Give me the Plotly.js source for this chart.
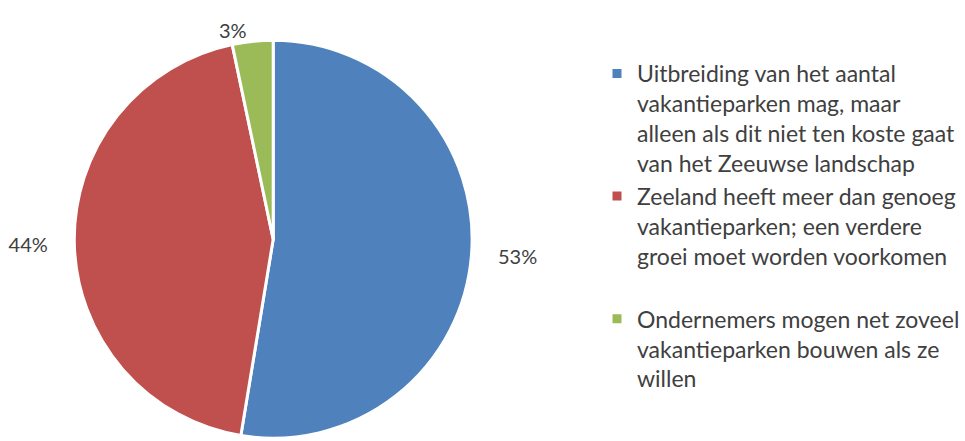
<!DOCTYPE html>
<html>
<head>
<meta charset="utf-8">
<script src="https://cdn.plot.ly/plotly-3.0.1.min.js"></script>
<style>html,body{margin:0;padding:0;background:#fff;}#chart{width:965px;height:441px;}</style>
</head>
<body>
<div id="chart"></div>
<script>
const categories = [
  "Uitbreiding van het aantal<br>vakantieparken mag, maar<br>alleen als dit niet ten koste gaat<br>van het Zeeuwse landschap",
  "Zeeland heeft meer dan genoeg<br>vakantieparken; een verdere<br>groei moet worden voorkomen<br> ",
  "Ondernemers mogen net zoveel<br>vakantieparken bouwen als ze<br>willen"
];
const values = [52.6, 44.1, 3.3];
const colors = ["#4F81BD", "#C0504D", "#9BBB59"];

const NB = "\u00a0";
const trace = {
  type: "pie",
  labels: categories,
  values: values,
  sort: false,
  direction: "clockwise",
  rotation: 0,
  marker: {colors: colors, line: {color: "#ffffff", width: 3}},
  textposition: "outside",
  texttemplate: [
    NB.repeat(4) + "%{percent:.0%}",
    "%{percent:.0%}" + NB.repeat(4),
    NB.repeat(11) + "%{percent:.0%}"
  ],
  outsidetextfont: {family: "Lato, 'Open Sans', sans-serif", size: 20, color: "#404040"},
  hoverinfo: "label+percent",
  domain: {x: [0.0786, 0.4996], y: [0, 0.915]},
  automargin: false
};

const layout = {
  width: 965, height: 441,
  margin: {l: 0, r: 0, t: 0, b: 0},
  paper_bgcolor: "#ffffff",
  showlegend: true,
  legend: {
    x: 0.632, y: 0.882, xanchor: "left", yanchor: "top",
    valign: "top",
    font: {family: "Lato, 'Open Sans', sans-serif", size: 23, color: "#404040"},
    itemwidth: 30,
    tracegroupgap: 0
  },
  font: {family: "Lato, sans-serif", color: "#404040"}
};

Plotly.newPlot("chart", [trace], layout, {displayModeBar: false, staticPlot: true});
</script>
</body>
</html>
